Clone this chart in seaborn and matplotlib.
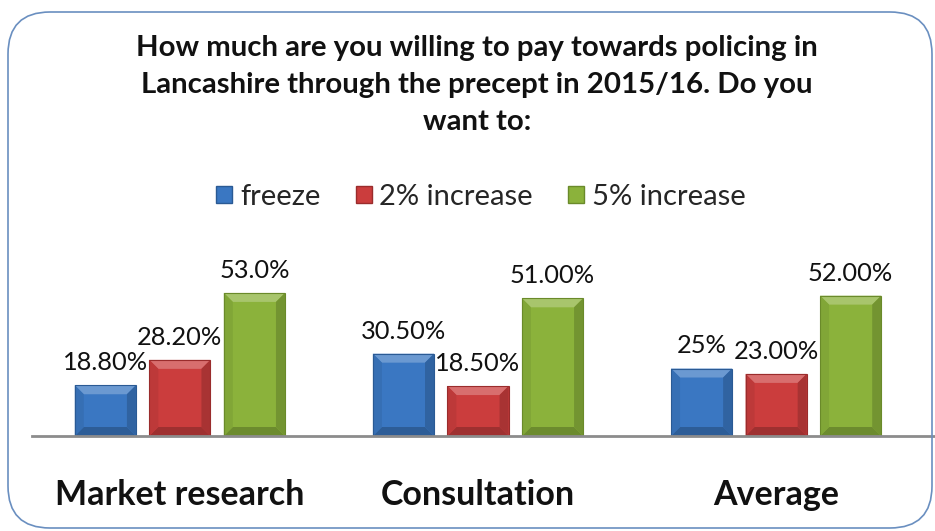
import matplotlib
matplotlib.use("Agg")
import matplotlib.pyplot as plt
from matplotlib.patches import FancyBboxPatch, Patch, Polygon
import matplotlib.colors as mcolors
import seaborn as sns
import pandas as pd

categories = ["Market research", "Consultation", "Average"]
series = ["freeze", "2% increase", "5% increase"]
freeze = [18.8, 30.5, 25.0]
increase2 = [28.2, 18.5, 23.0]
increase5 = [53.0, 51.0, 52.0]
freeze_labels = ["18.80%", "30.50%", "25%"]
increase2_labels = ["28.20%", "18.50%", "23.00%"]
increase5_labels = ["53.0%", "51.00%", "52.00%"]

colors = ["#3A77C2", "#CB3D3D", "#8BB23B"]
edges = ["#2A5A94", "#9A2C2C", "#6A8A2A"]

values = [freeze, increase2, increase5]
labels = [freeze_labels, increase2_labels, increase5_labels]
rows = []
for s, vals in zip(series, values):
    for c, v in zip(categories, vals):
        rows.append({"category": c, "series": s, "value": v})
df = pd.DataFrame(rows)

sns.set_style("white")
plt.rcParams["font.family"] = ["Lato", "DejaVu Sans"]

fig = plt.figure(figsize=(9.35, 5.31), dpi=100)
ax = fig.add_axes([32/935, 1 - 436/531, 1 - 32/935, 186/531])

sns.barplot(data=df, x="category", y="value", hue="series", order=categories,
            hue_order=series, palette=colors, width=0.75, gap=0.18,
            ax=ax, legend=False, saturation=1)

ax.set_ylim(0, 68.9)
ax.set_xlim(-0.496, 2.533)


def shade(c, f):
    r, g, b = mcolors.to_rgb(c)
    if f >= 0:
        return (r + (1 - r) * f, g + (1 - g) * f, b + (1 - b) * f)
    return (r * (1 + f), g * (1 + f), b * (1 + f))


# bevel decoration sized in pixels, converted to data units
bx = 9 / 298.5
by = 9 / (186 / 68.9)
for i, cont in enumerate(ax.containers):
    base = colors[i]
    for bar in cont:
        x0, y0 = bar.get_x(), bar.get_y()
        w, h = bar.get_width(), bar.get_height()
        x1, y1 = x0 + w, y0 + h
        bar.set_edgecolor("none")
        polys = [
            ([(x0, y1), (x1, y1), (x1 - bx, y1 - by), (x0 + bx, y1 - by)], shade(base, 0.25)),
            ([(x0, y0), (x1, y0), (x1 - bx, y0 + by), (x0 + bx, y0 + by)], shade(base, -0.22)),
            ([(x0, y0), (x0, y1), (x0 + bx, y1 - by), (x0 + bx, y0 + by)], shade(base, -0.07)),
            ([(x1, y0), (x1, y1), (x1 - bx, y1 - by), (x1 - bx, y0 + by)], shade(base, -0.17)),
        ]
        for pts, col in polys:
            ax.add_patch(Polygon(pts, closed=True, facecolor=col, edgecolor="none",
                                 zorder=bar.get_zorder() + 0.1))
        ax.add_patch(plt.Rectangle((x0, y0), w, h, fill=False, edgecolor=edges[i],
                                   linewidth=0.8, zorder=bar.get_zorder() + 0.2))
    ax.bar_label(cont, labels=labels[i], padding=8, fontsize=18.3, color="#111111")

ax.set_xlabel("")
ax.set_ylabel("")
ax.set_yticks([])
for sp in ["top", "right", "left"]:
    ax.spines[sp].set_visible(False)
ax.spines["bottom"].set_color("#8C8C8C")
ax.spines["bottom"].set_linewidth(2)
ax.spines["bottom"].set_zorder(5)
ax.tick_params(axis="x", length=0, pad=31)
for t in ax.get_xticklabels():
    t.set_fontsize(24.5)
    t.set_fontweight("bold")
    t.set_color("#111111")

title = fig.text(477/935, 1 - 85/531,
                 "How much are you willing to pay towards policing in\nLancashire through the precept in 2015/16. Do you\nwant to:",
                 ha="center", va="center", fontsize=21.2, fontweight="bold",
                 color="#111111")
title.set_linespacing(1.52)

handles = [Patch(facecolor=colors[i], edgecolor=edges[i]) for i in range(3)]
fig.legend(handles, series, loc="center", bbox_to_anchor=(481/935, 1 - 197/531),
           ncol=3, frameon=False, fontsize=21, handlelength=0.55, handleheight=0.55,
           handletextpad=0.27, columnspacing=1.2, borderpad=0, borderaxespad=0)

border = FancyBboxPatch((8/935, 1 - 528/531), 924/935, 516/531,
                        boxstyle="round,pad=0,rounding_size=0.045",
                        transform=fig.transFigure, fill=False,
                        edgecolor="#6A8FC0", linewidth=1.2, mutation_aspect=935/531)
fig.patches.append(border)

fig.savefig("out.png", dpi=100)
